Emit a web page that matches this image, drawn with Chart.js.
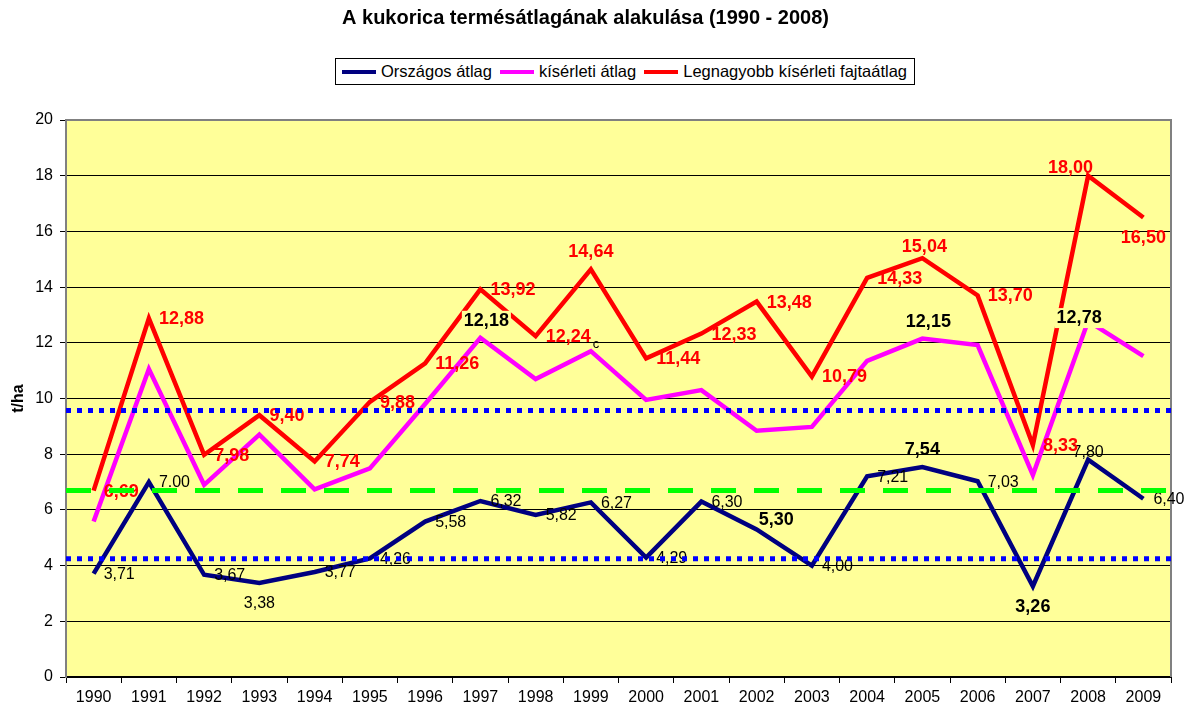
<!DOCTYPE html>
<html>
<head>
<meta charset="utf-8">
<title>A kukorica termésátlagának alakulása</title>
<script src="https://cdn.jsdelivr.net/npm/chart.js@4.4.1/dist/chart.umd.min.js"></script>
<style>
  body { margin: 0; background: #fff; font-family: 'Liberation Sans', Arial, sans-serif; }
  #wrap { position: relative; width: 1187px; height: 709px; }
  #legend {
    position: absolute; left: 335px; top: 58px; height: 25px;
    border: 1px solid #000; background: #fff;
    display: flex; align-items: center; padding: 0 7px 0 6px;
    font-size: 16.5px; white-space: nowrap; color: #000;
  }
  #legend .item { display: flex; align-items: center; margin-right: 8px; }
  #legend .item:last-child { margin-right: 0; }
  #legend .swatch { width: 34px; height: 4px; margin-right: 5px; }
</style>
</head>
<body>
<div id="wrap">
  <canvas id="yieldChart"></canvas>
  <div id="legend"></div>
</div>
<script>
const FONT = "'Liberation Sans', Arial, sans-serif";

// Data
const years = ['1990', '1991', '1992', '1993', '1994', '1995', '1996', '1997', '1998', '1999',
               '2000', '2001', '2002', '2003', '2004', '2005', '2006', '2007', '2008', '2009'];
const seriesNames = ['Országos átlag', 'kísérleti átlag', 'Legnagyobb kísérleti fajtaátlag'];
const orszagos   = [3.71, 7.00, 3.67, 3.38, 3.77, 4.26, 5.58, 6.32, 5.82, 6.27,
                    4.29, 6.30, 5.30, 4.00, 7.21, 7.54, 7.03, 3.26, 7.80, 6.40];
const kiserleti  = [5.58, 11.06, 6.90, 8.70, 6.74, 7.49, 9.80, 12.18, 10.70, 11.70,
                    9.95, 10.30, 8.84, 8.98, 11.35, 12.15, 11.92, 7.25, 12.78, 11.52];
const legnagyobb = [6.69, 12.88, 7.98, 9.40, 7.74, 9.88, 11.26, 13.92, 12.24, 14.64,
                    11.44, 12.33, 13.48, 10.79, 14.33, 15.04, 13.70, 8.33, 18.00, 16.50];
const refLevels  = [9.57, 4.25, 6.70];   // blue dotted, blue dotted, green dashed
const yTicks = { min: 0, max: 20, step: 2 };

const colors = ['#000080', '#FF00FF', '#FF0000'];

// label placement codes (dx, dy, align)
const offsets = {
  r:  [10, 1, 'left'],
  a:  [0, -17, 'center'],
  a2: [2, -11, 'center'],
  b:  [0, 21, 'center'],
  ar: [2, -9, 'left'],
  al: [5, -8, 'right'],
  ac: [0, -7, 'center'],
  am: [6, -17, 'center'],
  ml: [-9, -3, 'center'],
  n:  [5, -7, 'center']
};
const navyPlace = ['r','r','r','b','r','r','r','r','r','r','r','r','ar','r','r','a','r','b','ac','r'];
const redPlace  = ['r','r','r','r','r','r','r','r','r','a','r','r','r','r','r','a2','r','r','al','b'];
const navyBold  = ['2002', '2005', '2007'];
const magentaShown = { '1997': 'am', '2005': 'am', '2008': 'ml' };

function fmt(v) { return v.toFixed(2).replace('.', ','); }

const navyText = orszagos.map(fmt);
navyText[1] = '7.00';

// yellow plot area + grey frame
const plotArea = {
  id: 'plotArea',
  beforeDraw(chart) {
    const a = chart.chartArea, ctx = chart.ctx;
    ctx.save();
    ctx.fillStyle = '#FFFF99';
    ctx.fillRect(a.left, a.top, a.right - a.left, a.bottom - a.top);
    ctx.restore();
  },
  beforeDatasetsDraw(chart) {
    const a = chart.chartArea, ctx = chart.ctx;
    ctx.save();
    ctx.strokeStyle = '#808080';
    ctx.lineWidth = 2;
    ctx.beginPath();
    ctx.moveTo(a.left, a.top);
    ctx.lineTo(a.right, a.top);
    ctx.lineTo(a.right, a.bottom);
    ctx.stroke();
    ctx.restore();
  }
};

function drawText(ctx, text, x, y, code, font, color, bg) {
  const o = offsets[code];
  ctx.font = font;
  ctx.textAlign = o[2];
  ctx.textBaseline = 'middle';
  const tx = x + o[0], ty = y + o[1];
  if (bg) {
    const w = ctx.measureText(text).width;
    let lx = tx;
    if (o[2] === 'center') lx = tx - w / 2;
    if (o[2] === 'right') lx = tx - w;
    ctx.fillStyle = bg;
    ctx.fillRect(lx - 2, ty - 10, w + 4, 20);
  }
  ctx.fillStyle = color;
  ctx.fillText(text, tx, ty);
}

// value labels, drawn right after the last series so the average lines stay on top
const valueLabels = {
  id: 'valueLabels',
  afterDatasetDraw(chart, args) {
    if (chart.data.datasets[args.index].label !== seriesNames[2]) return;
    const ctx = chart.ctx;
    ctx.save();
    const navy = chart.getDatasetMeta(0).data;
    navy.forEach((pt, i) => {
      const bold = navyBold.includes(years[i]);
      drawText(ctx, navyText[i], pt.x, pt.y, navyPlace[i],
        bold ? 'bold 18px ' + FONT : '16px ' + FONT, '#000');
    });
    const red = chart.getDatasetMeta(2).data;
    red.forEach((pt, i) => {
      drawText(ctx, fmt(legnagyobb[i]), pt.x, pt.y, redPlace[i], 'bold 18px ' + FONT, '#FF0000');
    });
    const mag = chart.getDatasetMeta(1).data;
    mag.forEach((pt, i) => {
      const code = magentaShown[years[i]];
      if (code) drawText(ctx, fmt(kiserleti[i]), pt.x, pt.y, code, 'bold 18px ' + FONT, '#000', '#FFFF99');
    });
    // stray note next to 1999
    const p99 = mag[years.indexOf('1999')];
    drawText(ctx, 'c', p99.x, p99.y, 'n', '13px ' + FONT, '#000');
    ctx.restore();
  }
};

function refLine(level, color, dash, width) {
  return {
    data: [{ x: 0, y: level }, { x: 1, y: level }],
    xAxisID: 'x2',
    borderColor: color,
    borderWidth: width,
    borderDash: dash,
    borderCapStyle: 'butt',
    pointRadius: 0,
    order: 1
  };
}

const ctx = document.getElementById('yieldChart').getContext('2d');
const chart = new Chart(ctx, {
  type: 'line',
  data: {
    labels: years,
    datasets: [
      { label: seriesNames[0], data: orszagos, borderColor: colors[0], backgroundColor: colors[0],
        borderWidth: 4.5, pointRadius: 0, order: 6 },
      { label: seriesNames[1], data: kiserleti, borderColor: colors[1], backgroundColor: colors[1],
        borderWidth: 4.5, pointRadius: 0, order: 5 },
      { label: seriesNames[2], data: legnagyobb, borderColor: colors[2], backgroundColor: colors[2],
        borderWidth: 4.5, pointRadius: 0, order: 4 },
      refLine(refLevels[0], '#0000FF', [5, 6], 5),
      refLine(refLevels[1], '#0000FF', [5, 6], 5),
      refLine(refLevels[2], '#00FF00', [25, 18], 5)
    ]
  },
  options: {
    responsive: true,
    maintainAspectRatio: false,
    animation: false,
    layout: { padding: { left: 0, right: 16, top: 0, bottom: 0 } },
    plugins: {
      legend: { display: false },
      tooltip: { enabled: false },
      title: {
        display: true,
        text: 'A kukorica termésátlagának alakulása (1990 - 2008)',
        color: '#000',
        font: { family: FONT, size: 20, weight: 'bold' },
        padding: { top: 6, bottom: 90 }
      }
    },
    scales: {
      x: {
        offset: true,
        grid: { display: true, drawOnChartArea: false, offset: true, color: '#000', tickLength: 6 },
        border: { color: '#000', width: 2 },
        ticks: { color: '#000', font: { family: FONT, size: 16 }, padding: 5, maxRotation: 0, autoSkip: false },
        afterFit(scale) { scale.height = 32; }
      },
      x2: { type: 'linear', min: 0, max: 1, display: false },
      y: {
        min: yTicks.min,
        max: yTicks.max,
        ticks: { stepSize: yTicks.step, color: '#000', font: { family: FONT, size: 16 }, padding: 7 },
        grid: { color: '#000', lineWidth: 1, tickLength: 6 },
        border: { color: '#808080', width: 2 },
        title: { display: true, text: 't/ha', color: '#000', font: { family: FONT, size: 16, weight: 'bold' },
                 padding: { top: 9, bottom: 0 } },
        afterFit(scale) { scale.width = 66; }
      }
    }
  },
  plugins: [plotArea, valueLabels]
});

// HTML legend
const legendBox = document.getElementById('legend');
seriesNames.forEach((name, i) => {
  const item = document.createElement('div');
  item.className = 'item';
  item.innerHTML = '<span class="swatch" style="background:' + colors[i] + '"></span><span>' + name + '</span>';
  legendBox.appendChild(item);
});
</script>
</body>
</html>
